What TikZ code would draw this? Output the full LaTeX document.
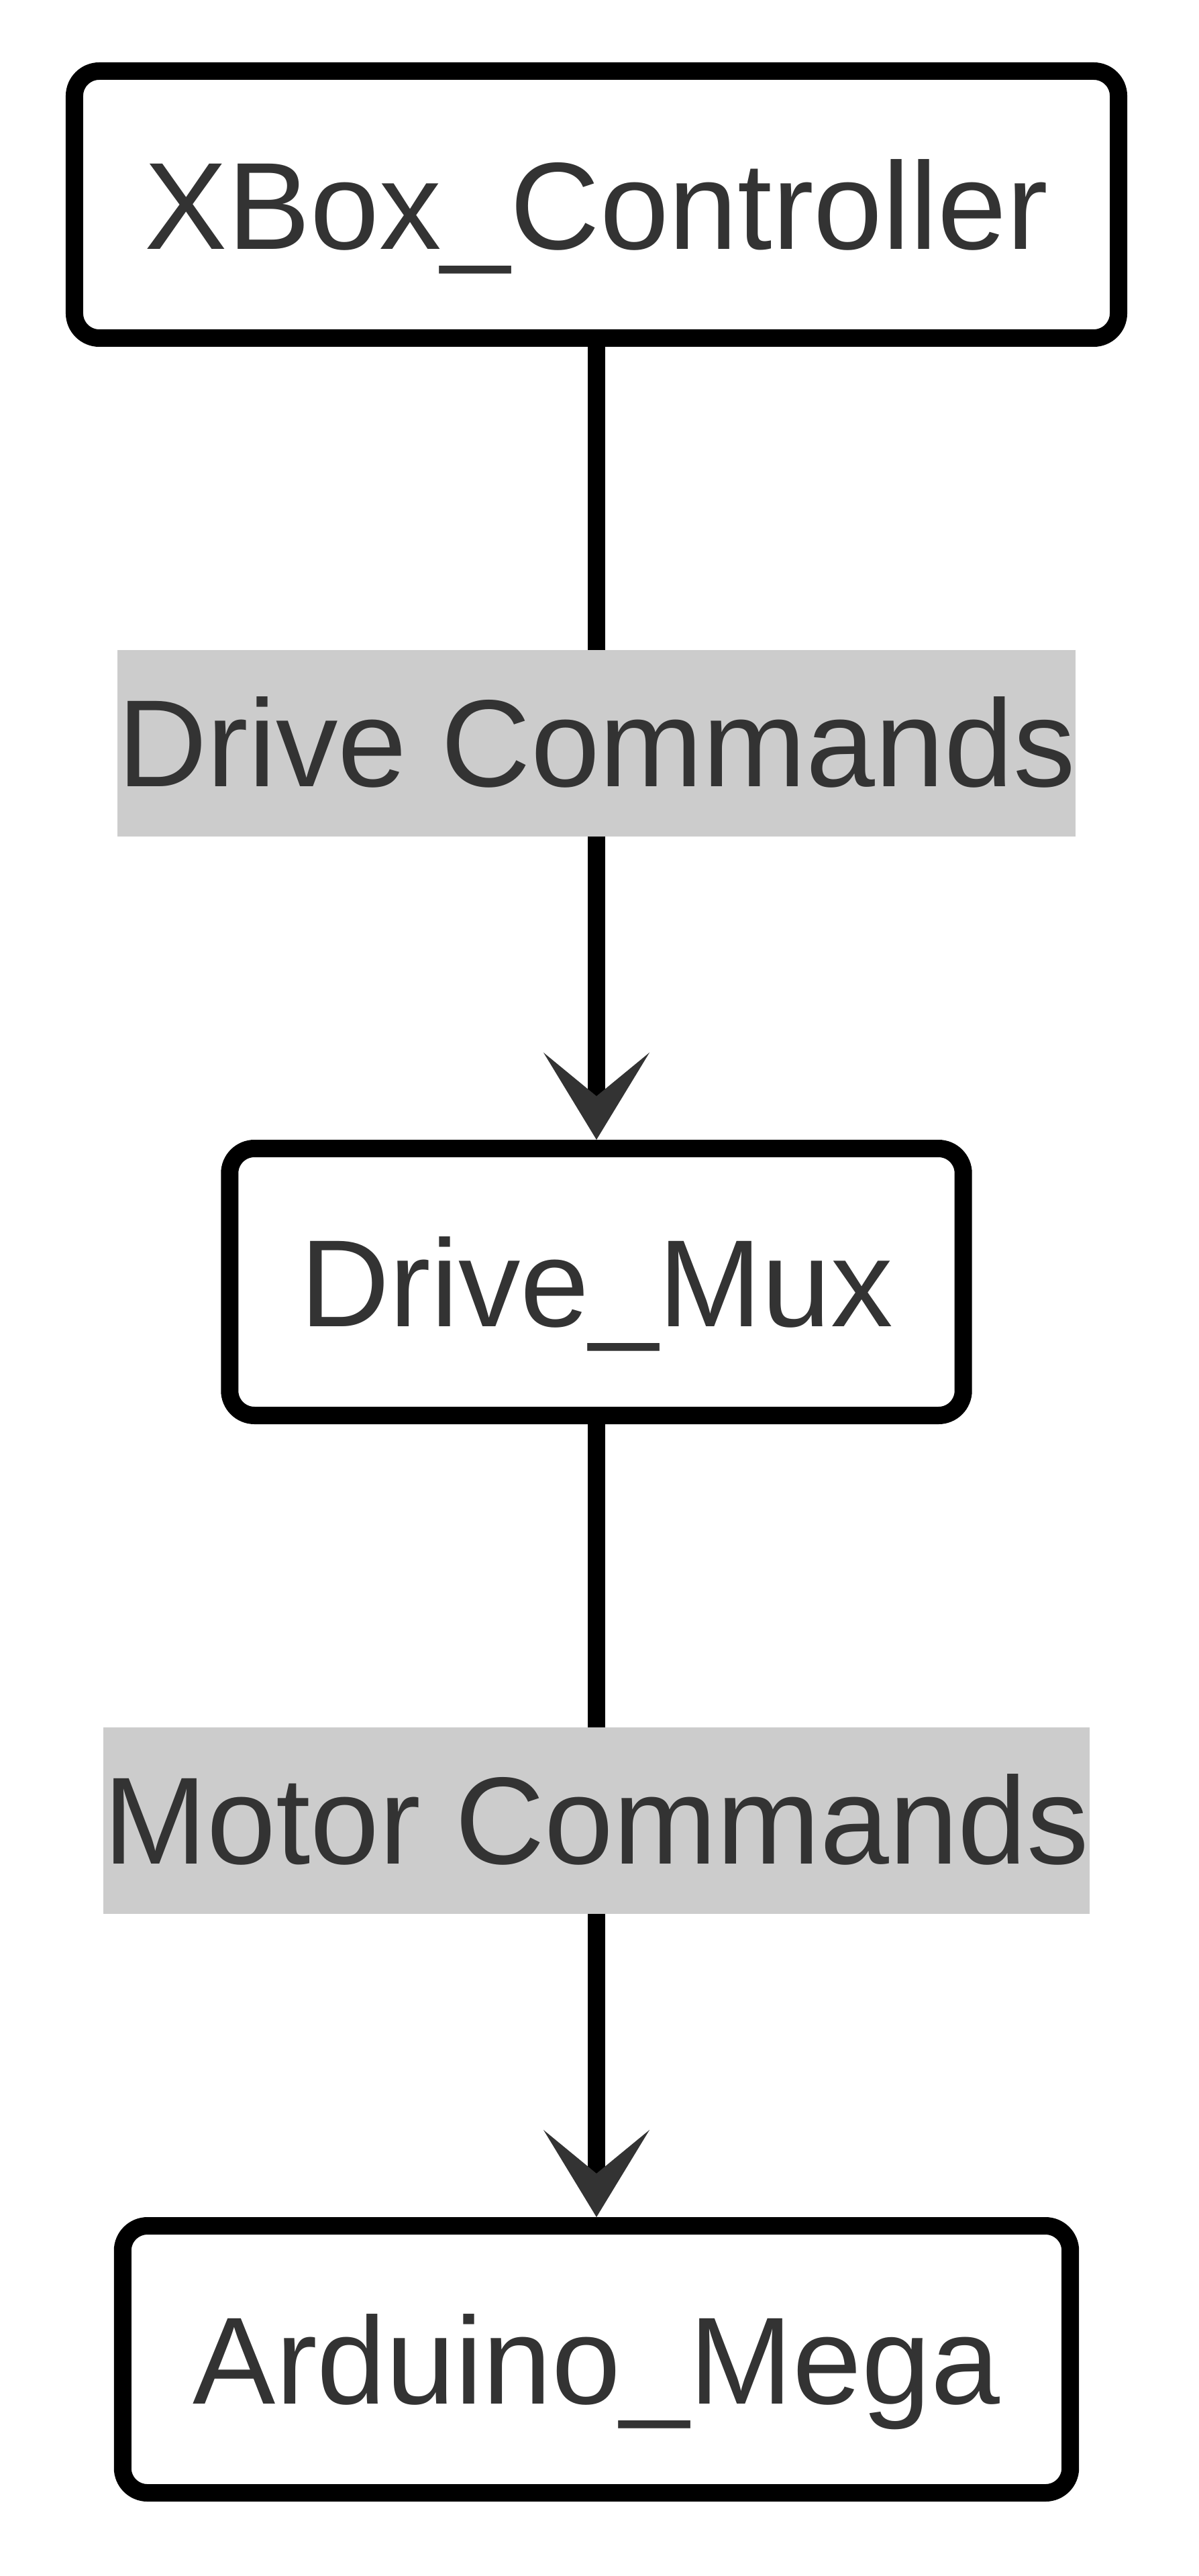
\documentclass[tikz,border=0pt]{standalone}
\usepackage{fontspec}
\setmainfont{Liberation Sans}
\usetikzlibrary{positioning,arrows.meta}
\definecolor{txtgray}{HTML}{333333}
\definecolor{lblgray}{HTML}{CCCCCC}

\begin{document}
\begin{tikzpicture}[
    font=\fontsize{52.6}{64}\selectfont,
    node distance=11.82cm,
    box/.style={draw=black, line width=0.26cm, rounded corners=0.37cm, fill=white, text=txtgray,
        minimum height=3.98cm, inner xsep=1.05cm, text height=1.33cm, text depth=0pt},
    lbl/.style={fill=lblgray, text=txtgray, inner xsep=0pt, inner ysep=0.35cm,
        text height=1.68cm, text depth=0.4cm},
    link/.style={line width=0.26cm,
        -{Stealth[length=1.3cm, width=1.58cm, inset=0.65cm, line width=0pt, color=txtgray]}}
]
\useasboundingbox (-8.89,3.05) rectangle (8.97,-35.35);
\node[box] (xbox) at (0,0) {XBox\_Controller};
\node[box, below=of xbox] (mux) {Drive\_Mux};
\node[box, below=of mux] (mega) {Arduino\_Mega};
\draw[link] (xbox) -- node[lbl] (drivecmd) {Drive Commands} (mux);
\draw[link] (mux) -- node[lbl] (motorcmd) {Motor Commands} (mega);
\end{tikzpicture}
\end{document}
